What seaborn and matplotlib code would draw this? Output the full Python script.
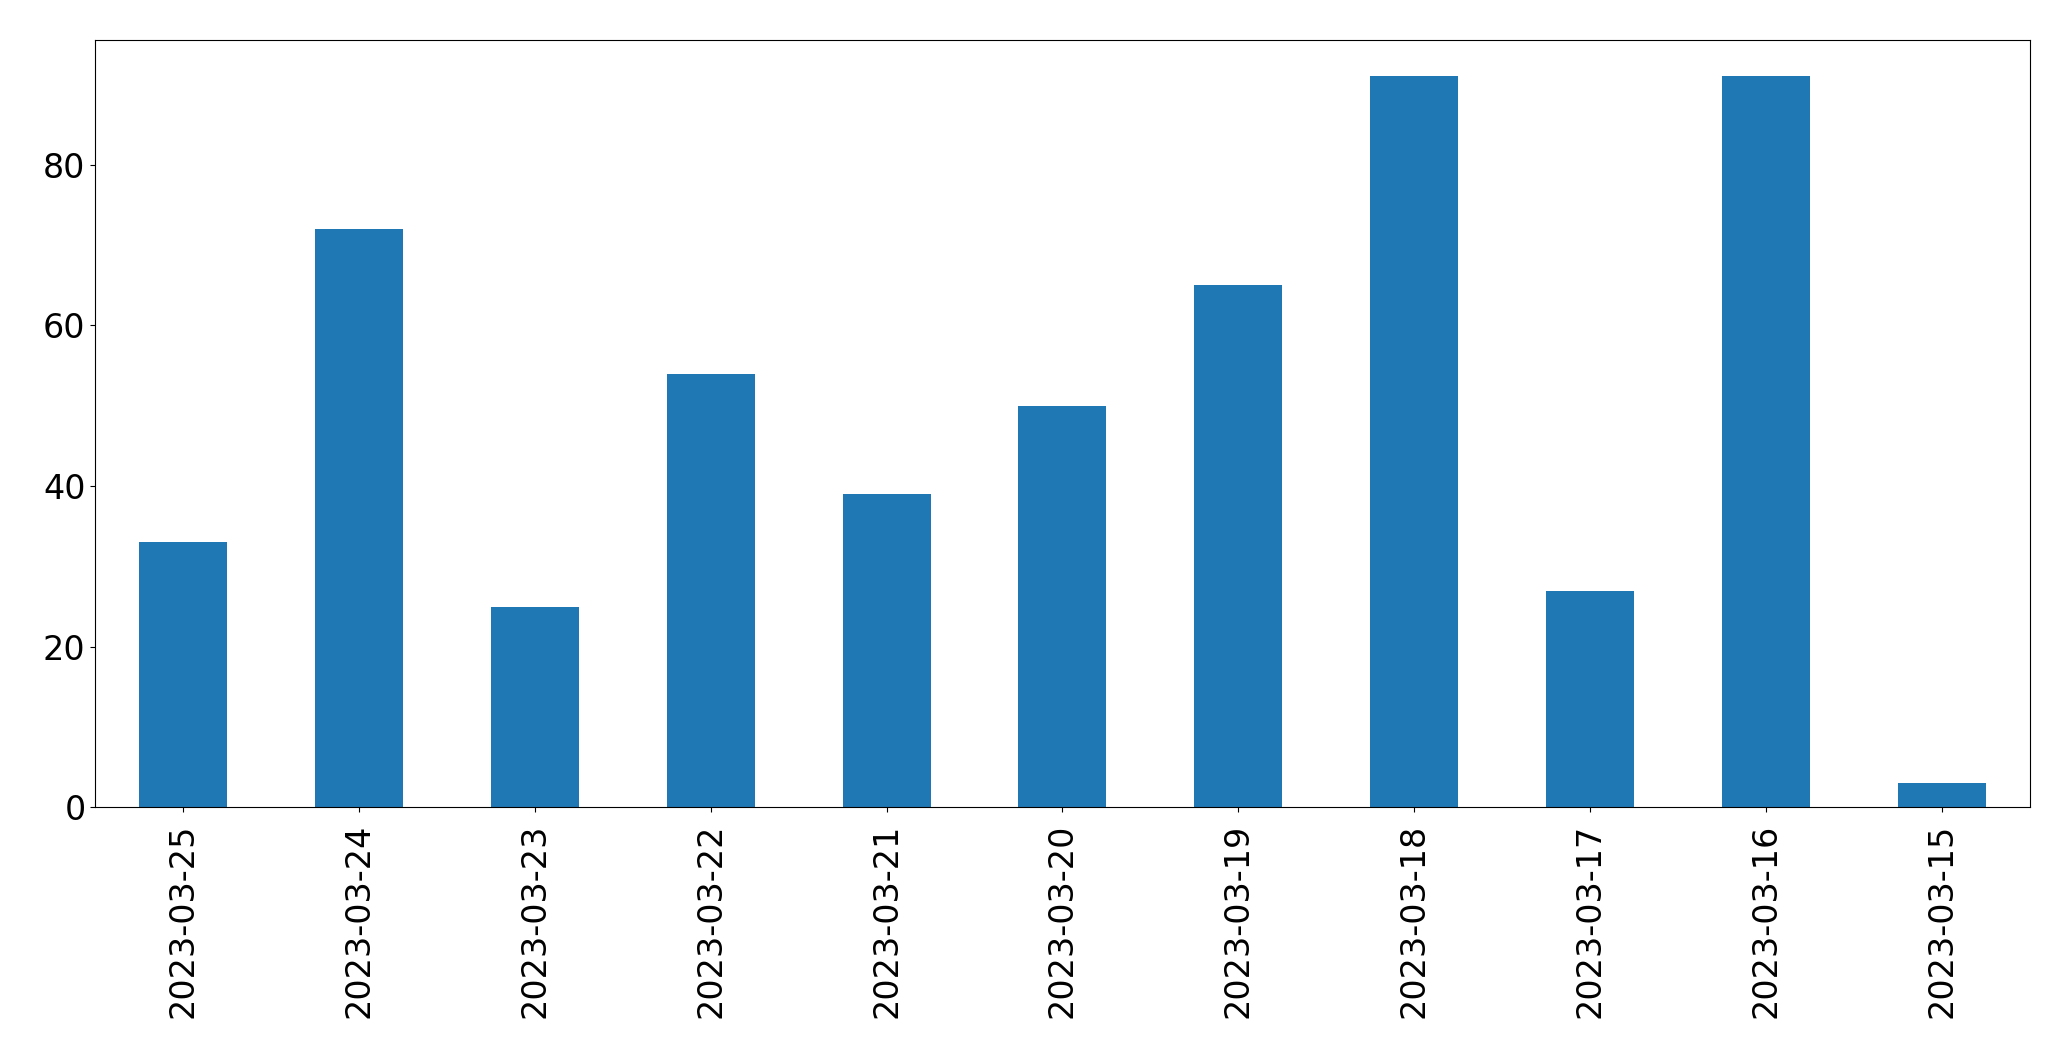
import pandas as pd
import matplotlib
matplotlib.use("Agg")
import matplotlib.pyplot as plt
import seaborn as sns

dates = ['2023-03-25', '2023-03-24', '2023-03-23', '2023-03-22', '2023-03-21',
         '2023-03-20', '2023-03-19', '2023-03-18', '2023-03-17', '2023-03-16',
         '2023-03-15']
counts = [33, 72, 25, 54, 39, 50, 65, 91, 27, 91, 3]

df = pd.DataFrame({'date': dates, 'count': counts})

fig, ax = plt.subplots(figsize=(20.71, 10.61), dpi=100)
sns.barplot(x='date', y='count', data=df, order=dates, color='#1f77b4',
            saturation=1, width=0.5, ax=ax)
ax.set_xlim(-0.5, len(dates) - 0.5)
ax.set_xlabel('')
ax.set_ylabel('')
ax.tick_params(axis='both', labelsize=24)
ax.tick_params(axis='x', pad=8)
plt.xticks(rotation=90)
plt.subplots_adjust(left=0.046, right=0.98, top=0.9625, bottom=0.239)
plt.savefig('out.png')
